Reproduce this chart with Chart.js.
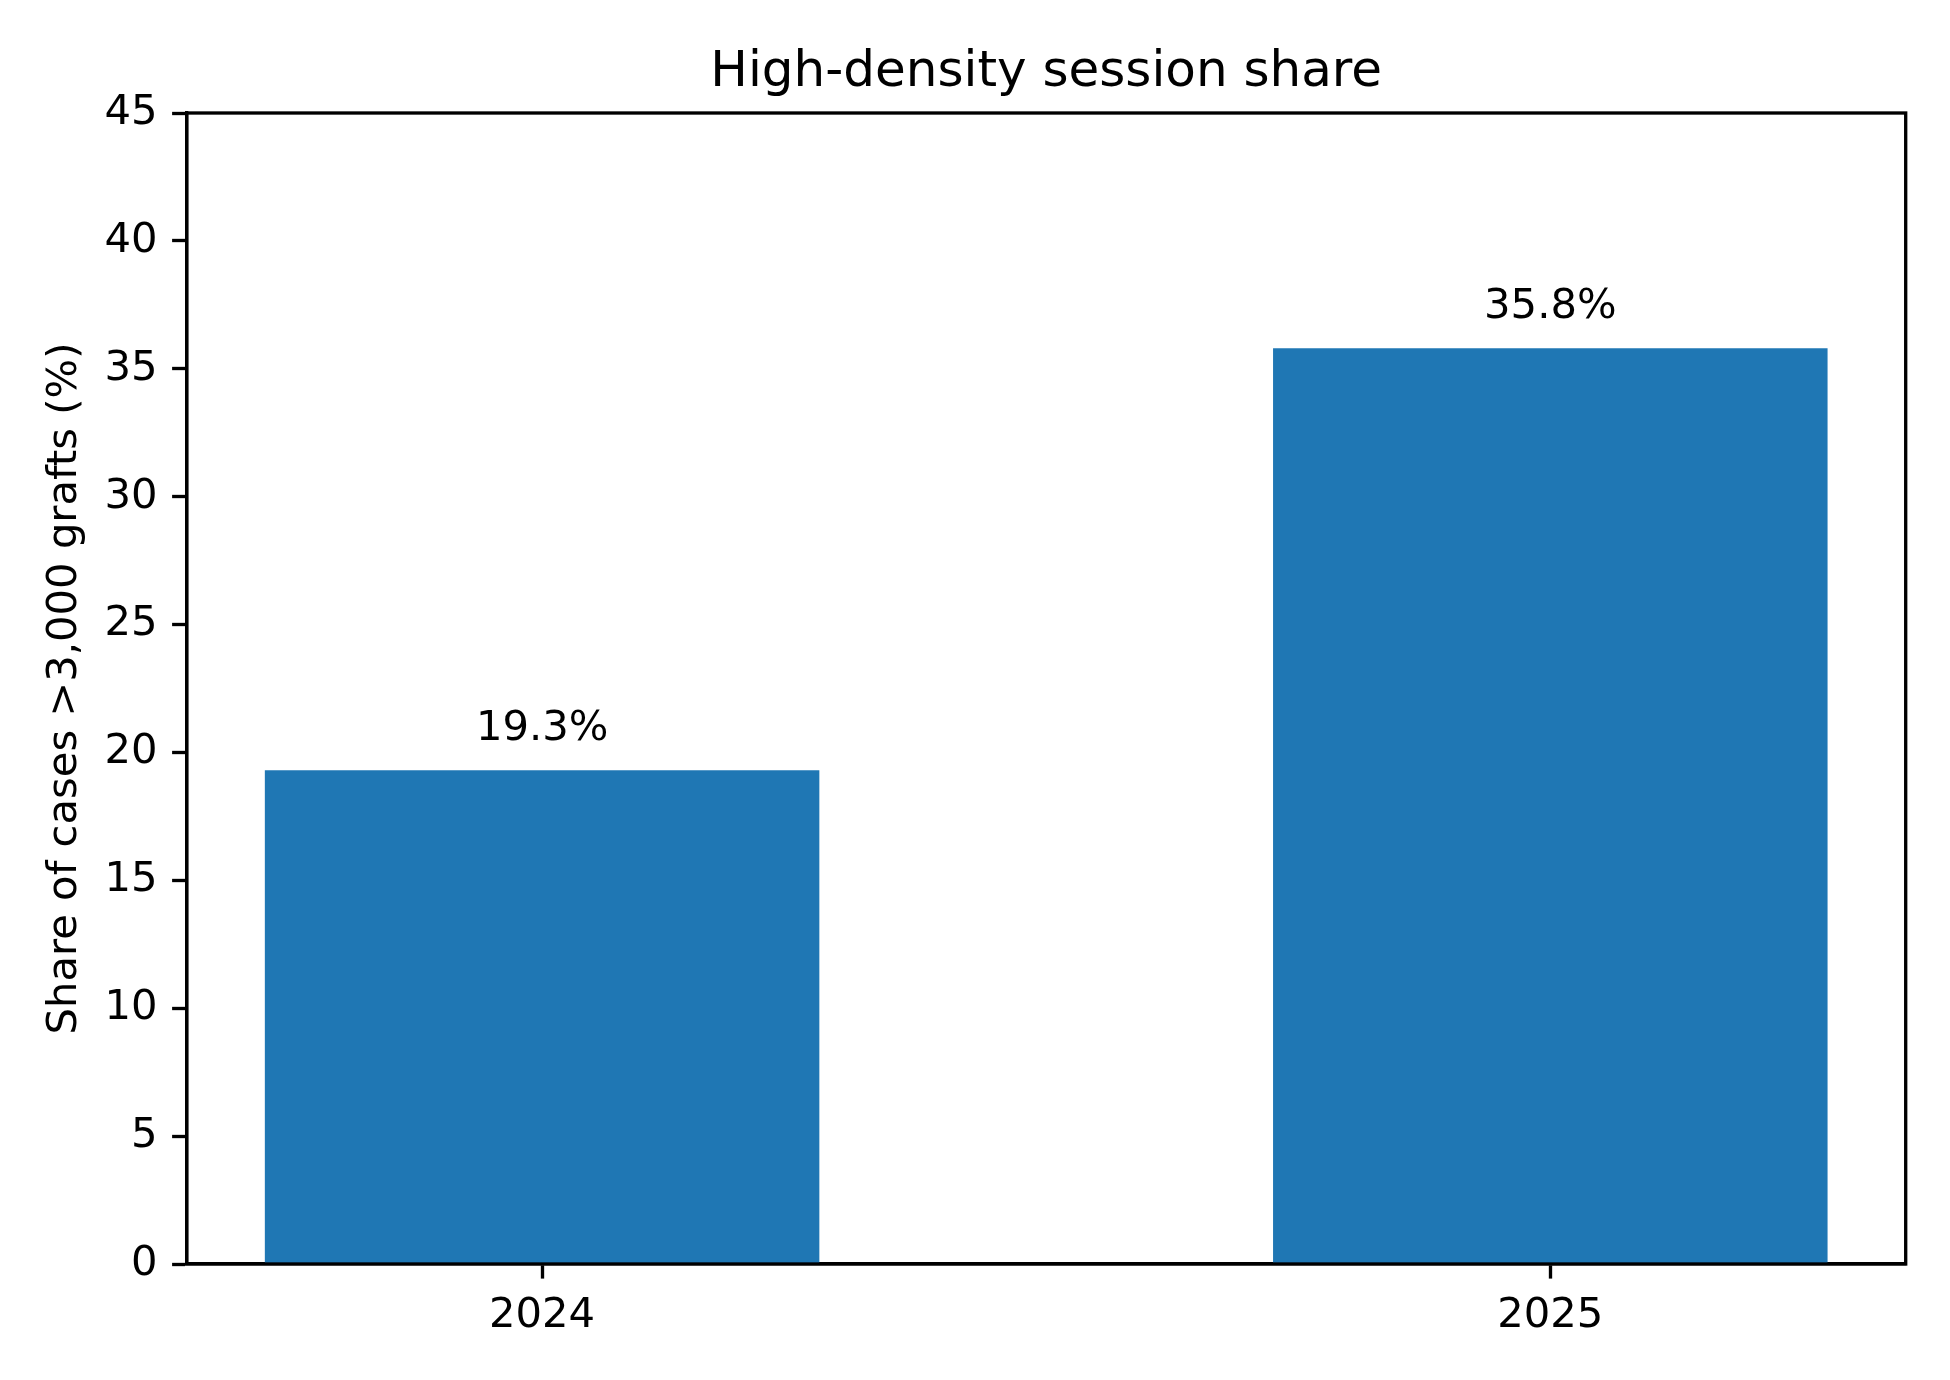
<!DOCTYPE html>
<html>
<head>
<meta charset="utf-8">
<title>High-density session share</title>
<script src="https://cdn.jsdelivr.net/npm/chart.js@4.4.1/dist/chart.umd.min.js"></script>
<style>
  html, body { margin: 0; padding: 0; background: #ffffff; }
  #wrap { width: 1950px; height: 1380px; position: relative; }
</style>
</head>
<body>
<div id="wrap"><canvas id="shareChart"></canvas></div>
<script>
// Data
const years = ['2024', '2025'];
const shares = [19.3, 35.8];
const yTicks = [0, 5, 10, 15, 20, 25, 30, 35, 40, 45];

const barLabels = shares.map(v => v.toFixed(1) + '%');
const FONT = "'DejaVu Sans', 'Liberation Sans', sans-serif";
const LW = 3.33;

// frame round the plot area (matplotlib spines)
const framePlugin = {
  id: 'frame',
  afterDraw(chart) {
    const { ctx, chartArea: a } = chart;
    ctx.save();
    ctx.strokeStyle = '#000000';
    ctx.lineWidth = LW;
    ctx.strokeRect(a.left, a.top, a.right - a.left, a.bottom - a.top);
    ctx.restore();
  }
};

// value text above each bar
const barLabelPlugin = {
  id: 'barLabels',
  afterDatasetsDraw(chart) {
    const { ctx } = chart;
    const meta = chart.getDatasetMeta(0);
    ctx.save();
    ctx.fillStyle = '#000000';
    ctx.font = '41.7px ' + FONT;
    ctx.textAlign = 'center';
    ctx.textBaseline = 'alphabetic';
    meta.data.forEach((bar, i) => {
      ctx.fillText(barLabels[i], bar.x, bar.y - 30);
    });
    ctx.restore();
  }
};

const ctx = document.getElementById('shareChart').getContext('2d');
const shareChart = new Chart(ctx, {
  type: 'bar',
  data: {
    datasets: [{
      data: shares.map((v, i) => ({ x: i, y: v })),
      backgroundColor: '#1f77b4',
      borderWidth: 0,
      barPercentage: 0.55,
      categoryPercentage: 1.0
    }]
  },
  options: {
    responsive: true,
    maintainAspectRatio: false,
    devicePixelRatio: 1,
    animation: false,
    layout: { padding: { left: 0, right: 44.3, top: 0, bottom: 0 } },
    plugins: {
      legend: { display: false },
      tooltip: { enabled: false },
      title: {
        display: true,
        fullSize: false,
        text: 'High-density session share',
        color: '#000000',
        font: { family: FONT, size: 50, weight: 'normal', lineHeight: 1.2 },
        padding: { top: 43, bottom: 10 }
      }
    },
    scales: {
      x: {
        type: 'linear',
        min: -0.3525,
        max: 1.3525,
        offset: false,
        afterBuildTicks(scale) {
          scale.ticks = years.map((_, i) => ({ value: i }));
        },
        afterFit(scale) { scale.height = 116; },
        ticks: {
          color: '#000000',
          font: { family: FONT, size: 41.7 },
          padding: 12.5,
          maxRotation: 0,
          callback: (value) => years[value] ?? ''
        },
        grid: {
          display: true,
          drawOnChartArea: false,
          drawTicks: true,
          offset: false,
          tickLength: 14.6,
          tickWidth: LW,
          tickColor: '#000000'
        },
        border: { display: true, color: '#000000', width: LW }
      },
      y: {
        min: 0,
        max: 45,
        afterBuildTicks(scale) {
          scale.ticks = yTicks.map(v => ({ value: v }));
        },
        afterFit(scale) { scale.width = 186.7; },
        ticks: {
          color: '#000000',
          font: { family: FONT, size: 41.7 },
          padding: 14.6
        },
        grid: {
          display: true,
          drawOnChartArea: false,
          drawTicks: true,
          tickLength: 14.6,
          tickWidth: LW,
          tickColor: '#000000'
        },
        border: { display: true, color: '#000000', width: LW },
        title: {
          display: true,
          text: 'Share of cases >3,000 grafts (%)',
          color: '#000000',
          font: { family: FONT, size: 41.7, lineHeight: 1.2 },
          padding: { top: 40, bottom: 0 }
        }
      }
    }
  },
  plugins: [framePlugin, barLabelPlugin]
});
</script>
</body>
</html>
